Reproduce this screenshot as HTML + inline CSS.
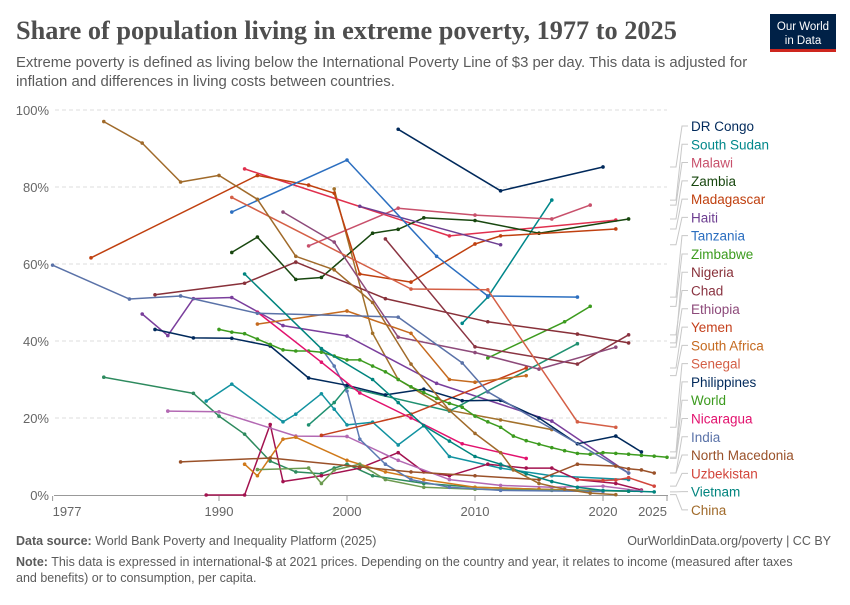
<!DOCTYPE html>
<html><head><meta charset="utf-8"><style>
body{margin:0;background:#fff;}
svg text{font-family:"Liberation Sans",sans-serif;}
</style></head><body>
<svg id="chart" width="850" height="600" viewBox="0 0 850 600">
<text x="16" y="39" font-family="Liberation Serif" font-size="26.3" font-weight="bold" fill="#4e4e4e" style="font-family:'Liberation Serif',serif">Share of population living in extreme poverty, 1977 to 2025</text>
<text x="16" y="67" font-size="14.9" fill="#5b5b5b">Extreme poverty is defined as living below the International Poverty Line of $3 per day. This data is adjusted for</text>
<text x="16" y="86" font-size="14.9" fill="#5b5b5b">inflation and differences in living costs between countries.</text>
<g>
<rect x="770" y="14" width="66" height="38" fill="#002147"/>
<rect x="770" y="49" width="66" height="3" fill="#ce261e"/>
<text x="803" y="30" font-size="11.5" fill="#fff" text-anchor="middle">Our World</text>
<text x="803" y="44" font-size="11.5" fill="#fff" text-anchor="middle">in Data</text>
</g>
<g id="grid"></g>
<g id="series"></g>
<g id="legend"></g>
<text x="16" y="545" font-size="12.5" fill="#5b5b5b"><tspan font-weight="bold">Data source:</tspan> World Bank Poverty and Inequality Platform (2025)</text>
<text x="831" y="545" font-size="12.5" fill="#5b5b5b" text-anchor="end">OurWorldinData.org/poverty | CC BY</text>
<text x="16" y="566" font-size="12.5" fill="#5b5b5b"><tspan font-weight="bold">Note:</tspan> This data is expressed in international-$ at 2021 prices. Depending on the country and year, it relates to income (measured after taxes</text>
<text x="16" y="582" font-size="12.5" fill="#5b5b5b">and benefits) or to consumption, per capita.</text>
</svg>
<script>
const yTicks=[0,20,40,60,80,100];
const xTicks=[1977,1990,2000,2010,2020,2025];

const drCongoYears=[2004,2012,2020];const drCongoVals=[95,79,85.2];
const southSudanYears=[2009,2011,2016];const southSudanVals=[44.6,51.4,76.6];
const malawiYears=[1997,2004,2010,2016,2019];const malawiVals=[64.7,74.5,72.7,71.7,75.3];
const redYears=[1992,2008,2021];const redVals=[84.7,67.3,71.4];
const zambiaYears=[1991,1993,1996,1998,2002,2004,2006,2010,2015,2022];const zambiaVals=[63,67,56,56.5,68,69,72,71.3,68,71.7];
const madagascarYears=[1980,1993,1997,1999,2001,2005,2010,2012,2021];const madagascarVals=[61.6,83,80.5,78.4,57.4,55.3,65.2,67.3,69.1];
const haitiYears=[2001,2012];const haitiVals=[75,65];
const tanzaniaYears=[1991,2000,2007,2011,2018];const tanzaniaVals=[73.5,87,62,51.7,51.4];
const zimbabweYears=[2011,2017,2019];const zimbabweVals=[35.6,45,49];
const nigeriaYears=[1985,1992,1996,2003,2011,2018,2022];const nigeriaVals=[52,55,60.5,51,45,41.8,39.5];
const chadYears=[2003,2010,2018,2022];const chadVals=[66.5,38.5,34,41.6];
const ethiopiaYears=[1995,1999,2004,2010,2015,2021];const ethiopiaVals=[73.5,65.7,41,37,32.7,38.4];
const yemenYears=[1998,2005,2014];const yemenVals=[15.5,21,33];
const southAfricaYears=[1993,2000,2005,2008,2010,2014];const southAfricaVals=[44.4,47.8,42,30,29.3,31];
const senegalYears=[1991,2005,2011,2018,2021];const senegalVals=[77.3,53.5,53.3,19,17.6];
const philippinesYears=[1985,1988,1991,1994,1997,2000,2003,2006,2009,2012,2015,2018,2021,2023];const philippinesVals=[43,40.8,40.7,38.7,30.4,28.5,26,27.5,24.5,24.6,20,13.3,15.3,11.2];
const worldYears=[1990,1991,1992,1993,1994,1995,1996,1997,1998,1999,2000,2001,2002,2003,2004,2005,2006,2007,2008,2009,2010,2011,2012,2013,2014,2015,2016,2017,2018,2019,2020,2021,2022,2023,2024,2025];
const worldVals=[43,42.3,41.9,40.5,39.1,37.7,37.4,37.4,37.1,36.1,35.1,35.1,33.5,32,30,28.1,26.6,25.1,23.8,22.8,20.5,19,17.6,15.3,14.1,13.2,12.3,11.5,10.8,10.6,11,10.8,10.6,10.3,10.1,9.8];
const nicaraguaYears=[1993,1998,2001,2005,2009,2014];const nicaraguaVals=[47.5,34.5,26.5,20,13.3,9.5];
const indiaYears=[1977,1983,1987,1993,2004,2009,2011,2022];const indiaVals=[59.7,50.9,51.7,47.2,46.2,34.3,26.8,5.7];
const macedoniaYears=[1987,1994,2001,2005,2010,2015,2018,2021,2022,2023,2024];const macedoniaVals=[8.6,9.6,7.3,6,5,4,8,7.5,6.8,6.5,5.7];
const uzbekistanYears=[2018,2020,2021,2022,2024];const uzbekistanVals=[4,3.8,3.9,4.5,2.3];
const vietnamYears=[1992,1998,2002,2004,2006,2008,2010,2012,2014,2016,2018,2020,2022,2024];const vietnamVals=[57.4,38,30,24,18,14,10,8,5.5,3.5,2,1.2,1,0.8];
const chinaYears=[1981,1984,1987,1990,1993,1996,1999,2002,2005,2008,2010,2012,2013,2015,2017,2019,2021];const chinaVals=[97,91.4,81.3,83,76.8,62,58.5,50,34,22,16,11,6.5,3,1.5,0.5,0.1];
const brown2Years=[1999,2002,2004,2008,2012,2016];const brown2Vals=[79.5,42,30,22,19.5,17];
const teal2Years=[1989,1991,1995,1996,1998,1999,2000,2002,2004,2006,2008,2012,2016,2022];const teal2Vals=[24.4,28.8,19,21,26.3,22.3,18.2,18.9,13,18,10,7,5,4];
const green2Years=[1981,1988,1990,1992,1994,1996,1998,1999,2000,2002,2006,2010,2015,2022];const green2Vals=[30.6,26.4,20.5,15.8,8.8,6,5.5,7,8,5,3,2,1.5,1];
const crimsonYears=[1989,1992,1994,1995,1998,2001,2004,2006,2008,2011,2014,2016,2018,2021,2023];const crimsonVals=[0,0,18.3,3.5,5,7,11,6,5,8,7,7,4,3,1.3];
const lilacYears=[1986,1990,1996,2000,2004,2008,2012,2016,2020,2023];const lilacVals=[21.8,21.6,15.3,15.2,9,4,2.5,2,2.3,1];
const orangeYears=[1992,1993,1995,1996,2000,2003,2006,2010,2015,2022];const orangeVals=[8,5,14.5,15,9,6,4,2,1.5,1];
const oliveYears=[1993,1997,1998,1999,2001,2003,2006,2010,2016,2022];const oliveVals=[6.6,7,3,6.5,8,4,2,1.5,1.2,1];
const slateYears=[1998,1999,2000,2001,2003,2005,2008,2012,2020];const slateVals=[38,33.5,27,14.5,8,4,2,1.2,0.9];
const purpleYears=[1984,1986,1988,1991,1995,2000,2007,2016,2022];const purpleVals=[47,41.4,51,51.3,44,41.3,29,19.2,5.7];
const seaGreenYears=[1997,1999,2000,2008,2018];const seaGreenVals=[18.2,24,28,21.8,39.3];

const series=[
["brown-2",brown2Years,brown2Vals,"#a2712b",null],
["teal-2",teal2Years,teal2Vals,"#1192a0",null],
["green-2",green2Years,green2Vals,"#2d8a5e",null],
["crimson",crimsonYears,crimsonVals,"#a3124f",null],
["lilac",lilacYears,lilacVals,"#b369b3",null],
["orange",orangeYears,orangeVals,"#d07a1a",null],
["olive",oliveYears,oliveVals,"#6b9a4f",null],
["slate",slateYears,slateVals,"#5b79b2",null],
["purple",purpleYears,purpleVals,"#7a3e9c",null],
["sea-green",seaGreenYears,seaGreenVals,"#1f9070",null],
["red",redYears,redVals,"#e0304e",null],
["DR Congo",drCongoYears,drCongoVals,"#00295b",0],
["South Sudan",southSudanYears,southSudanVals,"#00878a",1],
["Malawi",malawiYears,malawiVals,"#c8506b",2],
["Zambia",zambiaYears,zambiaVals,"#18470f",3],
["Madagascar",madagascarYears,madagascarVals,"#c0400f",4],
["Haiti",haitiYears,haitiVals,"#6d3e91",5],
["Tanzania",tanzaniaYears,tanzaniaVals,"#2c6fc0",6],
["Zimbabwe",zimbabweYears,zimbabweVals,"#3c9b1e",7],
["Nigeria",nigeriaYears,nigeriaVals,"#883039",8],
["Chad",chadYears,chadVals,"#8a3442",9],
["Ethiopia",ethiopiaYears,ethiopiaVals,"#8d4a7a",10],
["Yemen",yemenYears,yemenVals,"#c4401c",11],
["South Africa",southAfricaYears,southAfricaVals,"#c56a1f",12],
["Senegal",senegalYears,senegalVals,"#d45f46",13],
["Philippines",philippinesYears,philippinesVals,"#00295b",14],
["World",worldYears,worldVals,"#3c9b1e",15],
["Nicaragua",nicaraguaYears,nicaraguaVals,"#e2126e",16],
["India",indiaYears,indiaVals,"#5a72a8",17],
["North Macedonia",macedoniaYears,macedoniaVals,"#9a5129",18],
["Uzbekistan",uzbekistanYears,uzbekistanVals,"#d2463c",19],
["Vietnam",vietnamYears,vietnamVals,"#00847e",20],
["China",chinaYears,chinaVals,"#a06a2a",21]
];

const NS="http://www.w3.org/2000/svg";
function xS(y){return 347+(y-2000)*12.8;}
function yS(v){return 495-v*3.85;}
function mk(tag,attrs,parent){const e=document.createElementNS(NS,tag);for(const k in attrs)e.setAttribute(k,attrs[k]);parent.appendChild(e);return e;}
const grid=document.getElementById('grid');
yTicks.forEach(t=>{
  if(t>0){const l=mk('line',{x1:55,x2:667,y1:yS(t),y2:yS(t),stroke:'#ddd','stroke-dasharray':'4,3'},grid);
  
  }
  const tx=mk('text',{x:49,y:yS(t)+5,'font-size':13,fill:'#666','text-anchor':'end'},grid);tx.textContent=t+'%';
  
  
});
const ax=mk('line',{x1:54,x2:668,y1:495.5,y2:495.5,stroke:'#999'},grid);


xTicks.forEach((t,i)=>{
  const tk=mk('line',{x1:xS(t),x2:xS(t),y1:496,y2:501,stroke:'#999'},grid);
  
  
  const anchor=i===0?'start':(i===xTicks.length-1?'end':'middle');
  const tx=mk('text',{x:xS(t),y:516,'font-size':13,fill:'#666','text-anchor':anchor},grid);tx.textContent=t;
  
  
});
const sg=document.getElementById('series');
const lg=document.getElementById('legend');
series.forEach(s=>{
  const [name,ys,vs,col,li]=s;
  const g=mk('g',{},sg);
  
  
  const pts=ys.map((y,i)=>xS(y).toFixed(1)+','+yS(vs[i]).toFixed(1)).join(' ');
  const pl=mk('polyline',{points:pts,fill:'none',stroke:col,'stroke-width':1.5,'stroke-linejoin':'round'},g);
  
  
  ys.forEach((y,i)=>{const c=mk('circle',{cx:xS(y),cy:yS(vs[i]),r:1.8,fill:col},g);
    
    });
  if(li!==null){
    const ly=126+li*18.28;
    const ey=yS(vs[vs.length-1]);
    const cn=mk('polyline',{points:`670,${ey} 676,${ey} 682,${ly} 688,${ly}`,fill:'none',stroke:'#c8c8c8','stroke-width':1},lg);
    
    
    const t=mk('text',{x:691,y:ly+5,'font-size':13.5,fill:col},lg);t.textContent=name;
    
    
  }
});
</script>
</body></html>
